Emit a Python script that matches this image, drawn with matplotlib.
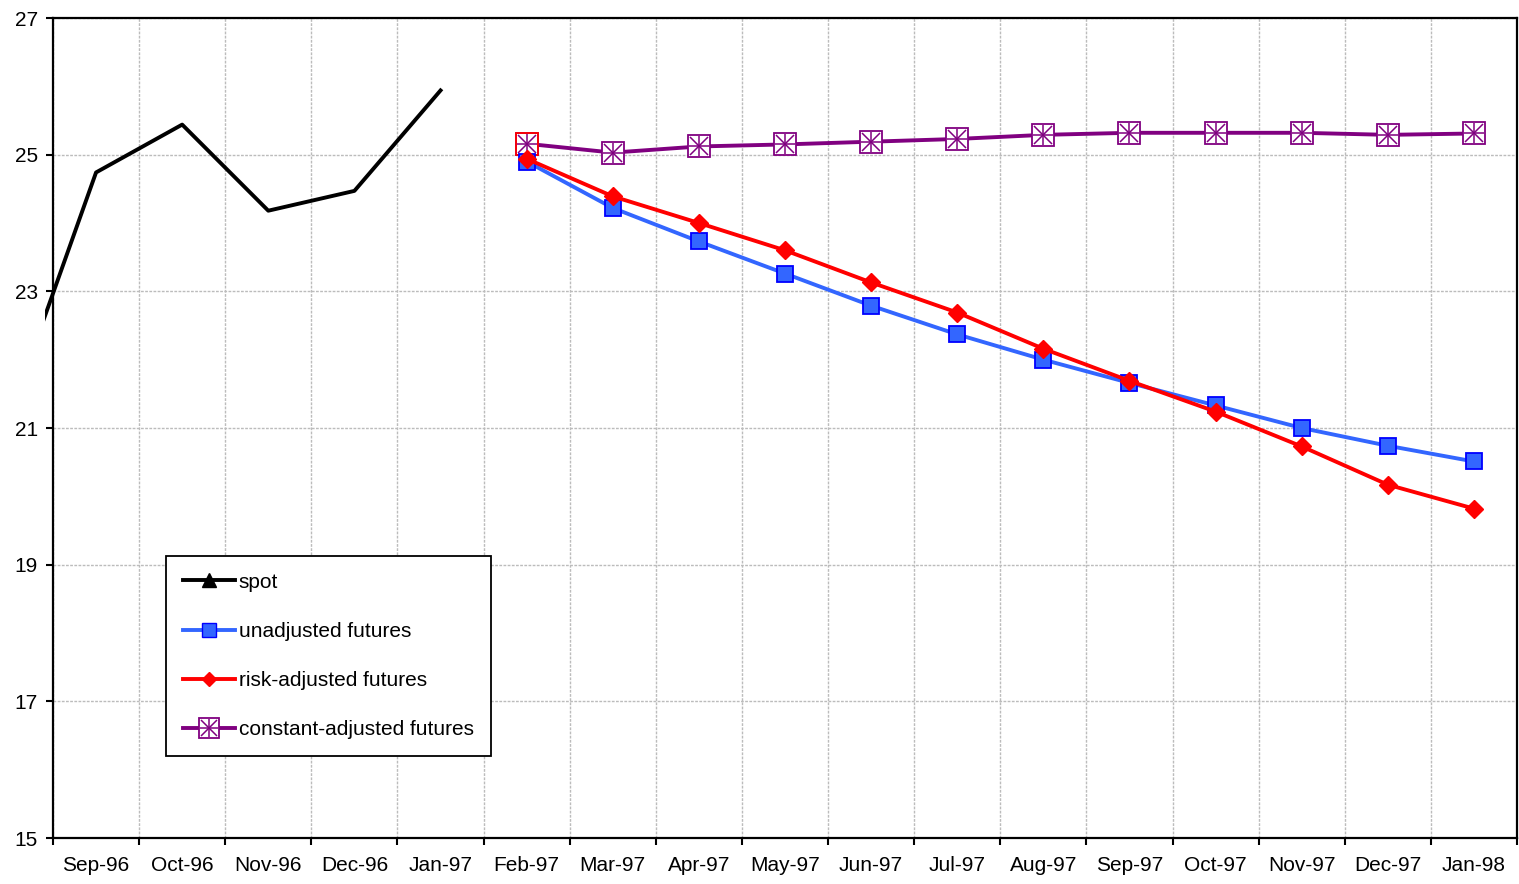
import matplotlib
matplotlib.use("Agg")
import matplotlib.pyplot as plt
from matplotlib.lines import Line2D
from matplotlib.legend_handler import HandlerTuple
from matplotlib.transforms import Bbox, TransformedBbox

plt.rcParams["font.family"] = ["Liberation Sans", "DejaVu Sans"]

# Monthly categories, Aug-96 sits just off the left edge of the chart
months = ["Sep-96", "Oct-96", "Nov-96", "Dec-96", "Jan-97", "Feb-97", "Mar-97",
          "Apr-97", "May-97", "Jun-97", "Jul-97", "Aug-97", "Sep-97", "Oct-97",
          "Nov-97", "Dec-97", "Jan-98"]

spot_x = [-1, 0, 1, 2, 3, 4]
spot = [21.2, 24.74, 25.44, 24.18, 24.47, 25.94]

fut_x = list(range(5, 17))
unadjusted = [24.90, 24.22, 23.73, 23.26, 22.79, 22.37, 22.00, 21.66, 21.33,
              21.00, 20.74, 20.51]
risk_adjusted = [24.94, 24.39, 24.00, 23.60, 23.13, 22.69, 22.16, 21.69, 21.24,
                 20.73, 20.17, 19.82]
constant_adjusted = [25.16, 25.03, 25.12, 25.15, 25.19, 25.23, 25.29, 25.32,
                     25.32, 25.32, 25.29, 25.31]

LW = 2.8
BLUE, BLUE_EDGE, RED, PURPLE = "#3366ff", "#0000ff", "#ff0000", "#800080"

fig = plt.figure(figsize=(15.19, 8.84), dpi=100)
ax = fig.add_axes([53 / 1519, 46 / 884, 1464 / 1519, 820 / 884])

# spot line runs a little past the left axis
spot_line, = ax.plot(spot_x, spot, color="black", lw=LW, zorder=3)
clip = TransformedBbox(Bbox.from_extents(-8 / 1464, 0, 1, 1), ax.transAxes)
spot_line.set_clip_box(clip)

ax.plot(fut_x, unadjusted, color=BLUE, lw=LW, marker="s", ms=11,
        mfc=BLUE, mec=BLUE_EDGE, mew=1.3, zorder=4)
ax.plot(fut_x, constant_adjusted, color=PURPLE, lw=LW, marker="s", ms=16,
        mfc="white", mec=PURPLE, mew=1.3, zorder=3)
ax.plot(fut_x, constant_adjusted, ls="none", marker="x", ms=12.5, mec=PURPLE,
        mew=1.1, zorder=3)
ax.plot(fut_x, constant_adjusted, ls="none", marker="+", ms=15, mec=PURPLE,
        mew=1.1, zorder=3)
ax.plot(fut_x[:1], constant_adjusted[:1], ls="none", marker="s", ms=16,
        mfc="none", mec=RED, mew=1.3, zorder=3)
ax.plot(fut_x, risk_adjusted, color=RED, lw=LW, marker="D", ms=9.5,
        mfc=RED, mec=RED, zorder=5)

ax.set_xlim(-0.5, 16.5)
ax.set_ylim(15, 27)
ax.set_yticks([15, 17, 19, 21, 23, 25, 27])
ax.set_xticks(range(17))
ax.set_xticklabels(months)
ax.set_xticks([i - 0.5 for i in range(18)], minor=True)

ax.tick_params(axis="x", which="major", length=0, pad=13, labelsize=15)
ax.tick_params(axis="x", which="minor", length=5, width=1.5, direction="out")
ax.tick_params(axis="y", length=5, width=1.5, direction="out", pad=6, labelsize=15)

ax.grid(True, axis="y", which="major", color="#bcbcbc", ls=(0, (2, 1)), lw=1)
ax.grid(True, axis="x", which="minor", color="#bcbcbc", ls=(0, (2, 1)), lw=1)
ax.set_axisbelow(True)
for s in ax.spines.values():
    s.set_linewidth(1.6)
    s.set_color("black")

handles = [
    Line2D([], [], color="black", lw=LW, marker="^", ms=10),
    Line2D([], [], color=BLUE, lw=LW, marker="s", ms=9.5, mfc=BLUE, mec=BLUE_EDGE),
    Line2D([], [], color=RED, lw=LW, marker="D", ms=7.5),
    (Line2D([], [], color=PURPLE, lw=LW, marker="s", ms=14, mfc="white", mec=PURPLE, mew=1.3),
     Line2D([], [], ls="none", marker="x", ms=11, mec=PURPLE, mew=1.1),
     Line2D([], [], ls="none", marker="+", ms=13, mec=PURPLE, mew=1.1)),
]
labels = ["spot", "unadjusted futures", "risk-adjusted futures", "constant-adjusted futures"]
leg = ax.legend(handles, labels, loc="lower left", bbox_to_anchor=(113 / 1464, 82 / 820),
                borderaxespad=0, fontsize=15, handlelength=2.5, handletextpad=0.2,
                labelspacing=1.45, borderpad=0.8, fancybox=False, framealpha=1,
                edgecolor="black", handler_map={tuple: HandlerTuple(ndivide=1)})
leg.get_frame().set_linewidth(1.3)

fig.savefig("out.png", dpi=100)
